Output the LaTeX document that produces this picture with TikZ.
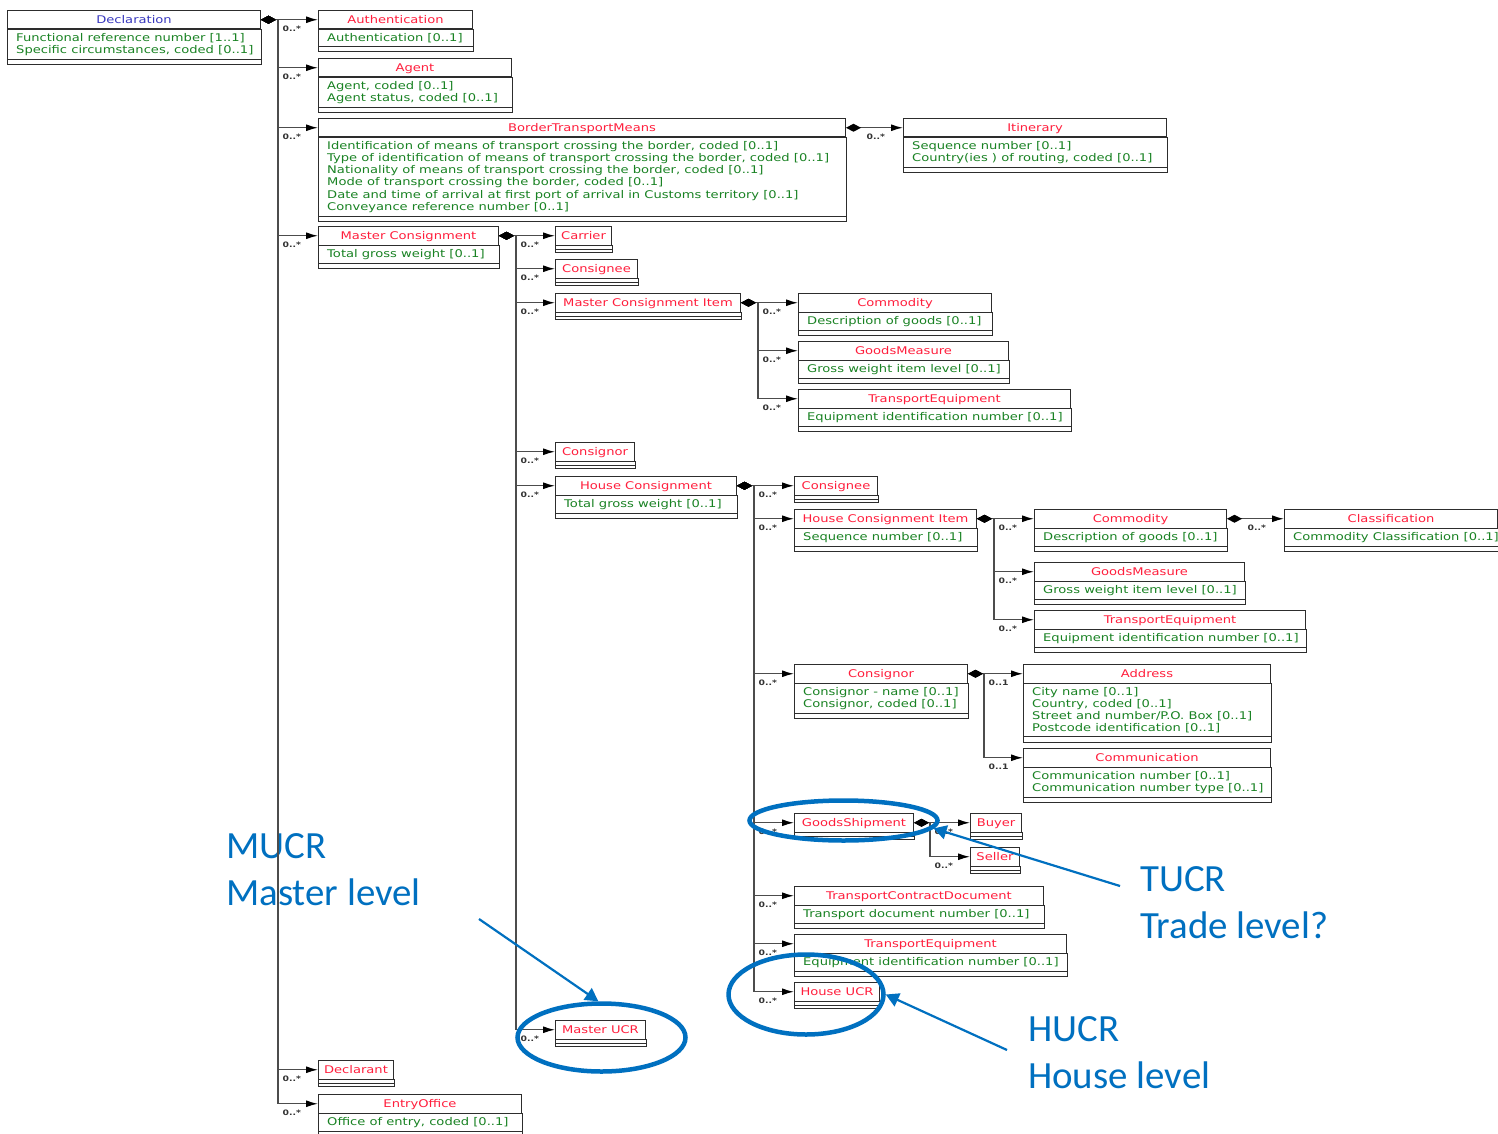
\documentclass[tikz,border=0pt]{standalone}
\usepackage{fontspec}
\usetikzlibrary{arrows.meta,shapes.geometric,calc}

\newfontfamily\umlfont[FakeStretch=1.235]{DejaVu Sans}
\newfontfamily\notefont[FakeStretch=1.01]{Carlito}

\definecolor{titlered}{RGB}{255,30,60}
\definecolor{titleblue}{RGB}{55,55,190}
\definecolor{attrgreen}{RGB}{25,130,35}
\definecolor{clsborder}{RGB}{45,45,45}
\definecolor{noteblue}{RGB}{0,112,192}

\tikzset{
  clstitle/.style={draw=clsborder, line width=1pt, fill=white, anchor=north west,
    minimum height=18.5pt, inner sep=0pt, text height=8.5pt, text depth=1.5pt,
    font=\umlfont\fontsize{10.6}{12.2}\selectfont},
  clsred/.style={text=titlered},
  clsblue/.style={text=titleblue},
  clsattr/.style={anchor=north west, inner xsep=0pt, inner ysep=3.5pt, align=left,
    text=attrgreen, font=\umlfont\fontsize{10.6}{12.2}\selectfont},
  clsline/.style={draw=clsborder, line width=1pt},
  comp/.style={draw=black!70, line width=1.3pt,
    {Diamond[length=15pt,width=8pt,color=black]}-{Latex[length=12pt,width=7pt,color=black]}},
  mult/.style={pos=0.5, anchor=north west, inner sep=0pt, xshift=4pt, yshift=-6pt,
    text=black!80, font=\umlfont\bfseries\fontsize{7.5}{9}\selectfont},
  ring/.style={ellipse, draw=noteblue, line width=4.5pt, inner sep=0pt},
  notearrow/.style={draw=noteblue, line width=2.2pt, -{Triangle[length=13pt,width=14pt]}},
  note/.style={anchor=base west, inner sep=0pt, text=noteblue,
    font=\notefont\fontsize{38.5}{46}\selectfont}
}

% class with attributes: [title style] name, top left, width, title, attributes
\newcommand{\umlclass}[6][clsred]{%
  \node[clstitle,#1,minimum width=#4pt] (#2) at (#3) {#5};
  \node[clsattr] (#2-attr) at ([xshift=9pt]#2.south west) {#6};
  \draw[clsline] (#2.south west) rectangle (#2.south east |- #2-attr.south);
  \draw[clsline] (#2.south west |- #2-attr.south) rectangle ($(#2.south east |- #2-attr.south)+(0,5.5)$);
}
% class without attributes: name, top left, width, title
\newcommand{\umlleaf}[4]{%
  \node[clstitle,clsred,minimum width=#3pt] (#1) at (#2) {#4};
  \draw[clsline] (#1.south west) rectangle ($(#1.south east)+(0,3.5)$);
  \draw[clsline] ($(#1.south west)+(0,3.5)$) rectangle ($(#1.south east)+(0,7)$);
}

\begin{document}
\begin{tikzpicture}[x=1pt,y=-1pt]
\fill[white] (0,0) rectangle (1498,1134);
\useasboundingbox (0,0) rectangle (1498,1134);

% annotations (text below the lines)
\node[note] (mucrtxt) at (226,858) {MUCR};
\node[note] (mucrlvl) at (226,905) {Master level};
\node[note] (tucrtxt) at (1140,891) {TUCR};
\node[note] (tucrlvl) at (1140,938) {Trade level?};
\node[note] (hucrtxt) at (1028,1041) {HUCR};
\node[note] (hucrlvl) at (1028,1088) {House level};

% declaration level
\umlclass[clsblue]{decl}{7,10}{253}{Declaration}{Functional reference number [1..1]\\Specific circumstances, coded [0..1]}
\umlclass{auth}{318,10}{154}{Authentication}{Authentication [0..1]}
\umlclass{agent}{318,58}{193}{Agent}{Agent, coded [0..1]\\Agent status, coded [0..1]}
\umlclass{btm}{318,118}{527}{BorderTransportMeans}{Identification of means of transport crossing the border, coded [0..1]\\Type of identification of means of transport crossing the border, coded [0..1]\\Nationality of means of transport crossing the border, coded [0..1]\\Mode of transport crossing the border, coded [0..1]\\Date and time of arrival at first port of arrival in Customs territory [0..1]\\Conveyance reference number [0..1]}
\umlclass{itin}{903,118}{263}{Itinerary}{Sequence number [0..1]\\Country(ies ) of routing, coded [0..1]}
\umlclass{mc}{318,226}{180}{Master Consignment}{Total gross weight [0..1]}
\umlleaf{declarant}{318,1060}{75}{Declarant}
\umlclass{entry}{318,1094}{203}{EntryOffice}{Office of entry, coded [0..1]}

% master consignment
\umlleaf{carrier}{555,226}{56}{Carrier}
\umlleaf{mcnee}{555,259}{82}{Consignee}
\umlleaf{mci}{555,293}{185}{Master Consignment Item}
\umlclass{mcomm}{798,293}{193}{Commodity}{Description of goods [0..1]}
\umlclass{mgm}{798,341}{210}{GoodsMeasure}{Gross weight item level [0..1]}
\umlclass{mte}{798,389}{272}{TransportEquipment}{Equipment identification number [0..1]}
\umlleaf{mcnor}{555,442}{79}{Consignor}
\umlclass{hc}{555,476}{181}{House Consignment}{Total gross weight [0..1]}
\umlleaf{mucr}{555,1020}{90}{Master UCR}

% house consignment
\umlleaf{hcnee}{794,476}{83}{Consignee}
\umlclass{hci}{794,509}{182}{House Consignment Item}{Sequence number [0..1]}
\umlclass{hcomm}{1034,509}{192}{Commodity}{Description of goods [0..1]}
\umlclass{classif}{1284,509}{213}{Classification}{Commodity Classification [0..1]}
\umlclass{hgm}{1034,562}{210}{GoodsMeasure}{Gross weight item level [0..1]}
\umlclass{hte}{1034,610}{271}{TransportEquipment}{Equipment identification number [0..1]}
\umlclass{hcnor}{794,664}{173}{Consignor}{Consignor - name [0..1]\\Consignor, coded [0..1]}
\umlclass{addr}{1023,664}{247}{Address}{City name [0..1]\\Country, coded [0..1]\\Street and number/P.O. Box [0..1]\\Postcode identification [0..1]}
\umlclass{commu}{1023,748}{247}{Communication}{Communication number [0..1]\\Communication number type [0..1]}
\umlleaf{gs}{794,813}{119}{GoodsShipment}
\umlleaf{buyer}{970,813}{51}{Buyer}
\umlleaf{seller}{970,847}{49}{Seller}
\umlclass{tcd}{794,886}{249}{TransportContractDocument}{Transport document number [0..1]}
\umlclass{gste}{794,934}{272}{TransportEquipment}{Equipment identification number [0..1]}
\umlleaf{hucr}{794,982}{85}{House UCR}

% compositions
\foreach \kid in {auth,agent,btm,mc,declarant,entry}
  \draw[comp] (decl.east) -- ++(17,0) |- (\kid.west) node[mult]{0..*};
\draw[comp] (btm.east) -- ++(16,0) |- (itin.west) node[mult]{0..*};
\foreach \kid in {carrier,mcnee,mci,mcnor,hc,mucr}
  \draw[comp] (mc.east) -- ++(17,0) |- (\kid.west) node[mult]{0..*};
\foreach \kid in {mcomm,mgm,mte}
  \draw[comp] (mci.east) -- ++(17,0) |- (\kid.west) node[mult]{0..*};
\foreach \kid in {hcnee,hci,hcnor,gs,tcd,gste,hucr}
  \draw[comp] (hc.east) -- ++(17,0) |- (\kid.west) node[mult]{0..*};
\foreach \kid in {hcomm,hgm,hte}
  \draw[comp] (hci.east) -- ++(17,0) |- (\kid.west) node[mult]{0..*};
\draw[comp] (hcomm.east) -- ++(16,0) |- (classif.west) node[mult]{0..*};
\foreach \kid in {addr,commu}
  \draw[comp] (hcnor.east) -- ++(16,0) |- (\kid.west) node[mult]{0..1};
\foreach \kid in {buyer,seller}
  \draw[comp] (gs.east) -- ++(16,0) |- (\kid.west) node[mult]{0..*};

% rings and pointers
\node[ring, minimum width=188pt, minimum height=40pt] (gsring) at (843.5,820.5) {};
\node[ring, minimum width=155pt, minimum height=80pt] (hucrring) at (806,994.5) {};
\node[ring, minimum width=168pt, minimum height=68pt] (mucrring) at (601.5,1037.5) {};
\coordinate (mucr-tail) at (479,919);
\coordinate (tucr-tail) at (1120,886);
\coordinate (hucr-tail) at (1007,1050);
\draw[notearrow] (mucr-tail) -- (mucrring.95);
\draw[notearrow] (tucr-tail) -- (gsring.-5);
\draw[notearrow] (hucr-tail) -- (hucrring.east);
\end{tikzpicture}
\end{document}
